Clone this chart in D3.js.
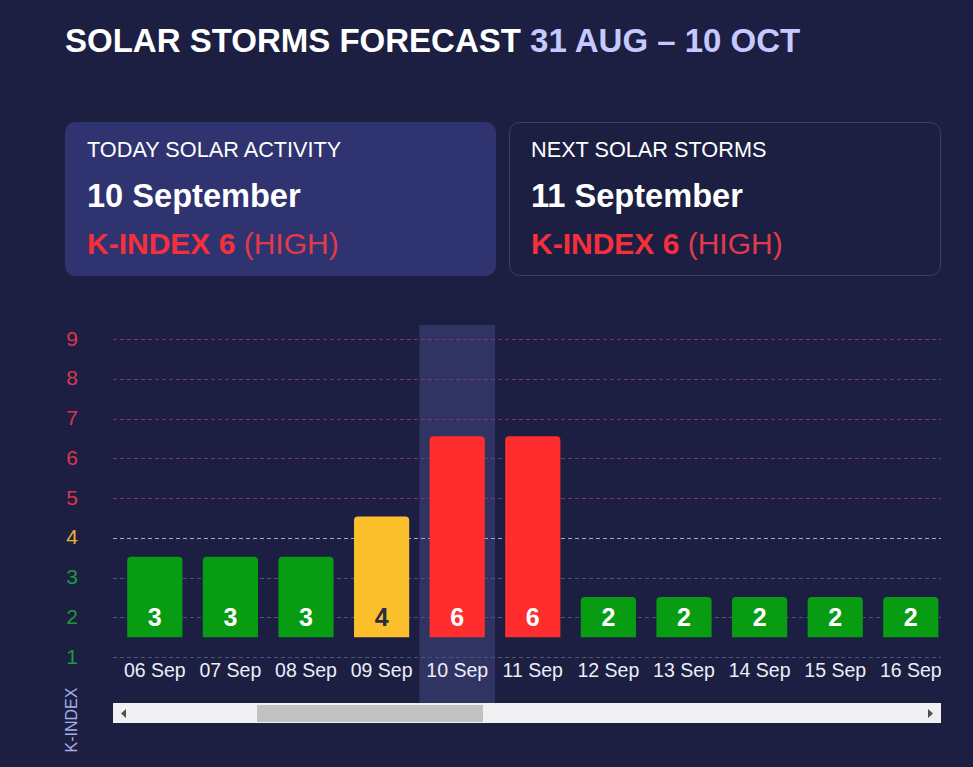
<!DOCTYPE html>
<html>
<head>
<meta charset="utf-8">
<script src="https://cdn.jsdelivr.net/npm/d3@7"></script>
<style>
  html, body { margin: 0; padding: 0; background: #1c1f42; }
  svg { display: block; font-family: "Liberation Sans", Arial, sans-serif; }
</style>
</head>
<body>
<svg id="chart" width="973" height="767"></svg>
<script>
var days = ["06 Sep", "07 Sep", "08 Sep", "09 Sep", "10 Sep", "11 Sep", "12 Sep", "13 Sep", "14 Sep", "15 Sep", "16 Sep"];
var kIndex = [3, 3, 3, 4, 6, 6, 2, 2, 2, 2, 2];
var yTicks = [1, 2, 3, 4, 5, 6, 7, 8, 9];
var today = "10 Sep";

var titleMain = "SOLAR STORMS FORECAST";
var titleRange = "31 AUG \u2013 10 OCT";

var cards = [
  {head: "TODAY SOLAR ACTIVITY", date: "10 September", k: 6, level: "(HIGH)"},
  {head: "NEXT SOLAR STORMS", date: "11 September", k: 6, level: "(HIGH)"}
];

function levelColor(v) {
  if (v >= 5) return "#ff2d2d";
  if (v == 4) return "#fbbf2c";
  return "#079c12";
}
function tickColor(v) {
  if (v >= 5) return "#d9374f";
  if (v == 4) return "#eeb238";
  return "#1c9a3c";
}
function gridColor(v) {
  if (v >= 5) return "#7c3a62";
  if (v == 4) return "#a9aabb";
  return "#4c5278";
}

function draw() {
  var svg = d3.select("#chart");
  svg.selectAll("*").remove();

  // title
  var title = svg.append("text")
    .attr("x", 65)
    .attr("y", 52)
    .attr("font-size", 33)
    .attr("font-weight", "bold");
  title.append("tspan").attr("fill", "#ffffff").text(titleMain + " ");
  title.append("tspan").attr("fill", "#c5c9ff").text(titleRange);

  // cards
  var cardX = d3.scaleBand().domain([0, 1]).range([65, 941]).paddingInner(0.015);
  var card = svg.selectAll("g.card").data(cards).enter()
    .append("g")
    .attr("class", "card")
    .attr("transform", function(d, i) { return "translate(" + (i == 0 ? 65 : 509) + ",122)"; });

  card.append("rect")
    .attr("x", function(d, i) { return i == 0 ? 0 : 0.5; })
    .attr("y", function(d, i) { return i == 0 ? 0 : 0.5; })
    .attr("width", function(d, i) { return i == 0 ? 431 : 431; })
    .attr("height", function(d, i) { return i == 0 ? 154 : 153; })
    .attr("rx", 10)
    .attr("fill", function(d, i) { return i == 0 ? "#2f3470" : "#1c1f42"; })
    .attr("stroke", function(d, i) { return i == 0 ? "none" : "#3a3f6c"; });

  card.append("text")
    .attr("x", 22)
    .attr("y", 35)
    .attr("font-size", 21.7)
    .attr("fill", "#ffffff")
    .text(function(d) { return d.head; });

  card.append("text")
    .attr("x", 22)
    .attr("y", 85)
    .attr("font-size", 32.6)
    .attr("font-weight", "bold")
    .attr("fill", "#ffffff")
    .text(function(d) { return d.date; });

  var kt = card.append("text")
    .attr("x", 22)
    .attr("y", 132)
    .attr("font-size", 30);
  kt.append("tspan")
    .attr("font-weight", "bold")
    .attr("fill", "#f52f3c")
    .text(function(d) { return "K-INDEX " + d.k + " "; });
  kt.append("tspan")
    .attr("fill", "#e23a4c")
    .text(function(d) { return d.level; });

  // chart
  var x = d3.scaleBand()
    .domain(days)
    .range([117, 117 + 75.6 * days.length])
    .paddingInner(0.27)
    .paddingOuter(0.135);
  var y = d3.scaleLinear()
    .domain([1, 9])
    .range([657, 339]);
  // bars grow a touch more per unit than the grid spacing
  var barH = d3.scaleLinear()
    .domain([1, 6])
    .range([0, 201]);

  var plot = svg.append("g");
  var defs = svg.append("defs");
  defs.append("clipPath").attr("id", "clip")
    .append("rect").attr("x", 113).attr("y", 300).attr("width", 828).attr("height", 403);

  var step = x.step();
  // highlight column for today
  plot.append("rect")
    .attr("x", x(today) - (step - x.bandwidth()) / 2)
    .attr("y", 325)
    .attr("width", step)
    .attr("height", 703 - 325)
    .attr("fill", "#2f3463");

  // grid
  plot.selectAll("line.grid").data(yTicks).enter()
    .append("line")
    .attr("class", "grid")
    .attr("x1", 113)
    .attr("x2", 941)
    .attr("y1", function(d) { return Math.round(y(d)) + 0.5; })
    .attr("y2", function(d) { return Math.round(y(d)) + 0.5; })
    .attr("stroke", function(d) { return gridColor(d); })
    .attr("stroke-dasharray", "4,3")
    .attr("stroke-width", 1);

  // y labels
  svg.selectAll("text.ytick").data(yTicks).enter()
    .append("text")
    .attr("class", "ytick")
    .attr("x", 72)
    .attr("y", function(d) { return y(d) - 1; })
    .attr("dy", "0.36em")
    .attr("text-anchor", "middle")
    .attr("font-size", 21)
    .attr("fill", function(d) { return tickColor(d); })
    .text(function(d) { return d; });

  svg.append("text")
    .attr("transform", "translate(77,720) rotate(-90)")
    .attr("text-anchor", "middle")
    .attr("font-size", 16)
    .attr("fill", "#a9aee6")
    .text("K-INDEX");

  // bars
  var bars = plot.append("g").attr("clip-path", "url(#clip)")
    .selectAll("g.bar").data(days).enter()
    .append("g")
    .attr("class", "bar");

  bars.append("path")
    .attr("fill", function(d, i) { return levelColor(kIndex[i]); })
    .attr("d", function(d, i) {
      var x0 = x(d), w = x.bandwidth();
      var bot = y(1.5), top = bot - barH(kIndex[i]), r = 4;
      return "M" + x0 + "," + bot +
        "V" + (top + r) +
        "Q" + x0 + "," + top + " " + (x0 + r) + "," + top +
        "H" + (x0 + w - r) +
        "Q" + (x0 + w) + "," + top + " " + (x0 + w) + "," + (top + r) +
        "V" + bot + "Z";
    });

  bars.append("text")
    .attr("x", function(d) { return x(d) + x.bandwidth() / 2; })
    .attr("y", y(2))
    .attr("dy", "0.36em")
    .attr("text-anchor", "middle")
    .attr("font-size", 25)
    .attr("font-weight", "bold")
    .attr("fill", function(d, i) { return kIndex[i] == 4 ? "#2a2b45" : "#ffffff"; })
    .text(function(d, i) { return kIndex[i]; });

  bars.append("text")
    .attr("x", function(d) { return x(d) + x.bandwidth() / 2; })
    .attr("y", y(0.5))
    .attr("text-anchor", "middle")
    .attr("font-size", 19.5)
    .attr("fill", "#eceef8")
    .text(function(d) { return d; });

  // scrollbar
  var sb = svg.append("g");
  sb.append("rect").attr("x", 113).attr("y", 703).attr("width", 828).attr("height", 20).attr("fill", "#f0f0f2");
  sb.append("rect").attr("x", 257).attr("y", 705).attr("width", 226).attr("height", 17).attr("fill", "#c1c1c1");
  sb.append("path").attr("d", "M121,713.5L126,709V718Z").attr("fill", "#505050");
  sb.append("path").attr("d", "M933,713.5L928,709V718Z").attr("fill", "#505050");
}

draw();
</script>
</body>
</html>
